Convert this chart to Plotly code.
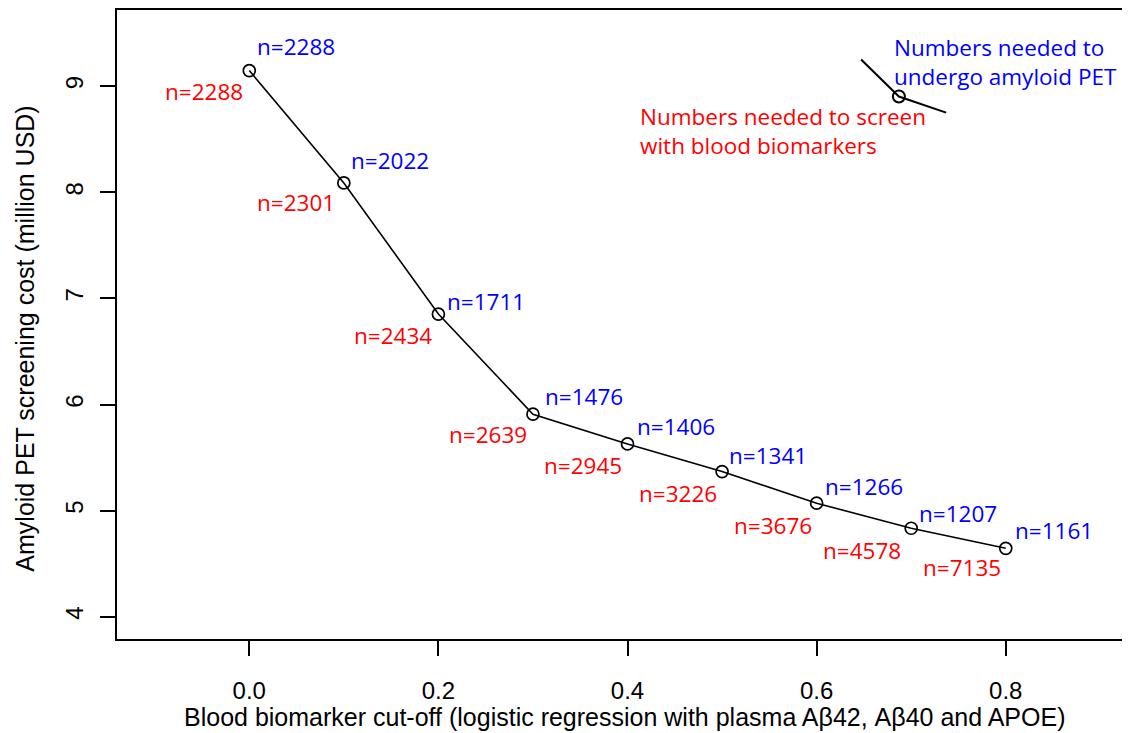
import plotly.graph_objects as go

# ---- data ----
cutoffs = [0.0, 0.1, 0.2, 0.3, 0.4, 0.5, 0.6, 0.7, 0.8]
cost_musd = [9.148, 8.089, 6.853, 5.909, 5.629, 5.368, 5.070, 4.834, 4.645]
n_pet = [2288, 2022, 1711, 1476, 1406, 1341, 1266, 1207, 1161]
n_screen = [2288, 2301, 2434, 2639, 2945, 3226, 3676, 4578, 7135]
x_ticks = [0.0, 0.2, 0.4, 0.6, 0.8]
x_tick_text = ["0.0", "0.2", "0.4", "0.6", "0.8"]
y_ticks = [4, 5, 6, 7, 8, 9]

# legend key glyph (data coordinates of the little sample curve)
key_x = [0.647, 0.687, 0.737]
key_y = [9.252, 8.903, 8.752]

# per-label pixel offsets (label placement only)
blue_dx = [6, 5, 7, 10, 7, 5, 6, 6, 7]
blue_dy = [24, 22, 13, 18, 17, 16, 17, 15, 18]
red_dx = [-4, -7, -4, -4, -4, -3, -3, -8, -3]
red_dy = [21, 20, 21, 20, 22, 22, 22, 22, 19]

BLUE = "#0000FF"
RED = "#FF0000"
LABEL_FONT = dict(family="Open Sans", size=22.5)
AXIS_FONT = dict(family="Liberation Sans", size=25, color="black")
TICK_FONT = dict(family="Liberation Sans", size=24, color="black")

fig = go.Figure()
fig.add_trace(go.Scatter(
    x=cutoffs, y=cost_musd, mode="lines+markers",
    line=dict(color="black", width=1.6),
    marker=dict(symbol="circle-open", size=12, color="black", line=dict(width=1.7)),
    showlegend=False, hoverinfo="skip"))

fig.add_trace(go.Scatter(
    x=key_x, y=key_y, mode="lines",
    line=dict(color="black", width=2),
    showlegend=False, hoverinfo="skip"))
fig.add_trace(go.Scatter(
    x=[key_x[1]], y=[key_y[1]], mode="markers",
    marker=dict(symbol="circle-open", size=12, color="black", line=dict(width=2)),
    showlegend=False, hoverinfo="skip"))

annotations = []
for i, (xv, yv) in enumerate(zip(cutoffs, cost_musd)):
    annotations.append(dict(
        x=xv, y=yv, xref="x", yref="y", text=f"n={n_pet[i]}", showarrow=False,
        xanchor="left", yanchor="middle", xshift=blue_dx[i], yshift=blue_dy[i],
        font=dict(color=BLUE, **LABEL_FONT)))
    annotations.append(dict(
        x=xv, y=yv, xref="x", yref="y", text=f"n={n_screen[i]}", showarrow=False,
        xanchor="right", yanchor="middle", xshift=red_dx[i], yshift=-red_dy[i],
        font=dict(color=RED, **LABEL_FONT)))

# legend texts
annotations.append(dict(
    x=key_x[1], y=key_y[1], xref="x", yref="y",
    text="Numbers needed to<br>undergo amyloid PET", showarrow=False,
    xanchor="left", yanchor="middle", align="left", xshift=-7, yshift=35,
    font=dict(color=BLUE, **LABEL_FONT)))
annotations.append(dict(
    x=key_x[1], y=key_y[1], xref="x", yref="y",
    text="Numbers needed to screen<br>with blood biomarkers", showarrow=False,
    xanchor="left", yanchor="middle", align="left", xshift=-261, yshift=-34,
    font=dict(color=RED, **LABEL_FONT)))

# axis titles
annotations.append(dict(
    x=0.5016, y=-0.124, xref="paper", yref="paper",
    text="Blood biomarker cut-off (logistic regression with plasma Aβ42, Aβ40 and APOE)",
    showarrow=False, xanchor="center", yanchor="middle", font=AXIS_FONT))
annotations.append(dict(
    x=-0.0905, y=0.478, xref="paper", yref="paper",
    text="Amyloid PET screening cost (million USD)", textangle=-90,
    showarrow=False, xanchor="center", yanchor="middle", font=AXIS_FONT))

# page body has an 8px default margin, so the figure is sized to fit inside it
fig.update_layout(
    width=1122, height=725,
    margin=dict(l=109, r=0, t=2, b=94, pad=0),
    paper_bgcolor="white", plot_bgcolor="white",
    annotations=annotations,
    font=AXIS_FONT,
)
fig.update_xaxes(
    range=[-0.1399, 0.9314], tickvals=x_ticks, ticktext=x_tick_text,
    showgrid=False, zeroline=False, showline=True, mirror=True,
    linecolor="black", linewidth=1.6, ticks="outside", ticklen=15,
    tickwidth=1.6, tickcolor="black", ticklabelstandoff=14,
    tickfont=TICK_FONT)
fig.update_yaxes(
    range=[3.790, 9.719], tickvals=y_ticks,
    showgrid=False, zeroline=False, showline=True, mirror=False,
    linecolor="black", linewidth=1.6, ticks="outside", ticklen=15,
    tickwidth=1.6, tickcolor="black", tickangle=-90, ticklabelstandoff=8,
    tickfont=TICK_FONT)

fig.write_html("out.html")
